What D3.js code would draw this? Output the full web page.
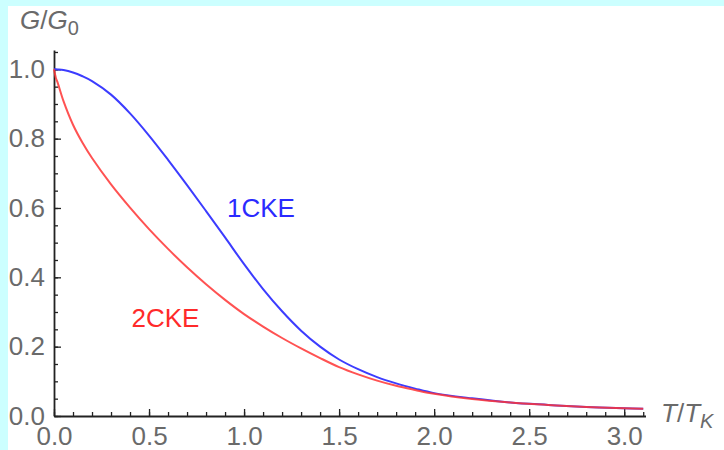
<!DOCTYPE html>
<html>
<head>
<meta charset="utf-8">
<script src="https://cdn.jsdelivr.net/npm/d3@7"></script>
<style>
  html, body { margin: 0; padding: 0; background: #ccffff; }
  svg { display: block; }
  text { font-family: "Liberation Sans", Arial, sans-serif; }
</style>
</head>
<body>
<svg id="chart" width="724" height="450"></svg>
<script>
// T/TK sample points and read-off conductances
const tGrid = [0, 0.01, 0.02, 0.05, 0.1, 0.15, 0.2, 0.3, 0.4, 0.5, 0.6, 0.7, 0.8, 0.9, 1.0,
  1.1, 1.2, 1.3, 1.4, 1.5, 1.6, 1.7, 1.8, 1.9, 2.0, 2.2, 2.4, 2.6, 2.8, 3.0, 3.1];
const g1CKE = [1.0, 0.9999, 0.9996, 0.998, 0.991, 0.980, 0.966, 0.927, 0.873, 0.809, 0.739, 0.666, 0.591, 0.515, 0.438,
  0.366, 0.302, 0.246, 0.200, 0.163, 0.135, 0.112, 0.094, 0.079, 0.066, 0.051, 0.039, 0.032, 0.026, 0.022, 0.021];
const g2CKE = [1.0, 0.975, 0.960, 0.908, 0.840, 0.788, 0.744, 0.668, 0.601, 0.539, 0.482, 0.429, 0.380, 0.335, 0.294,
  0.258, 0.225, 0.195, 0.167, 0.141, 0.120, 0.102, 0.087, 0.075, 0.064, 0.049, 0.039, 0.032, 0.026, 0.022, 0.021];

const xTicks = [0, 0.5, 1.0, 1.5, 2.0, 2.5, 3.0];
const yTicks = [0, 0.2, 0.4, 0.6, 0.8, 1.0];
const xMinor = d3.range(0, 32).map(i => i / 10);
const yMinor = d3.range(0, 22).map(i => i / 20);

const svg = d3.select("#chart");

// white plot panel inside the cyan frame
svg.append("rect")
  .attr("x", 8).attr("y", 6)
  .attr("width", 716).attr("height", 444)
  .attr("fill", "#fff");

const x = d3.scaleLinear().domain([0, 3.112]).range([54, 645.5]);
const y = d3.scaleLinear().domain([0, 1.0557]).range([416, 50]);

const axisColor = "#222";
const labelColor = "#6a6a6a";

// minor ticks first
svg.append("g")
  .attr("transform", "translate(0,416)")
  .call(d3.axisBottom(x).tickValues(xMinor).tickSize(-4).tickFormat(""))
  .call(g => g.select(".domain").remove());
svg.append("g")
  .attr("transform", "translate(54,0)")
  .call(d3.axisLeft(y).tickValues(yMinor).tickSize(-4).tickFormat(""))
  .call(g => g.select(".domain").remove());

const xAxis = svg.append("g")
  .attr("transform", "translate(0,416)")
  .call(d3.axisBottom(x).tickValues(xTicks).tickSizeInner(-7).tickSizeOuter(0)
    .tickPadding(11).tickFormat(d3.format(".1f")));
const yAxis = svg.append("g")
  .attr("transform", "translate(54,0)")
  .call(d3.axisLeft(y).tickValues(yTicks).tickSizeInner(-7).tickSizeOuter(0)
    .tickPadding(9).tickFormat(d3.format(".1f")));

svg.selectAll(".tick line").attr("stroke", axisColor).attr("stroke-width", 1.3);
[xAxis, yAxis].forEach(a => {
  a.select(".domain").attr("stroke", axisColor).attr("stroke-width", 1.8);
  a.selectAll("text").attr("font-size", 26).attr("fill", labelColor)
    .attr("font-family", "Liberation Sans, Arial, sans-serif");
});

// curves
const line = d3.line()
  .x(d => x(d[0]))
  .y(d => y(d[1]))
  .curve(d3.curveCatmullRom.alpha(0.5));

svg.append("path")
  .datum(tGrid.map((t, i) => [t, g1CKE[i]]))
  .attr("fill", "none")
  .attr("stroke", "#3c3cff")
  .attr("stroke-width", 2)
  .attr("d", line);

svg.append("path")
  .datum(tGrid.map((t, i) => [t, g2CKE[i]]))
  .attr("fill", "none")
  .attr("stroke", "#ff3434")
  .attr("stroke-opacity", 0.85)
  .attr("stroke-width", 2)
  .attr("d", line);

// curve labels
svg.append("text")
  .attr("x", 227).attr("y", 216.5)
  .attr("font-size", 26).attr("fill", "#2a2aff")
  .text("1CKE");
svg.append("text")
  .attr("x", 131.5).attr("y", 326.5)
  .attr("font-size", 26).attr("fill", "#ff2a2a")
  .text("2CKE");

// axis titles
const yTitle = svg.append("text")
  .attr("x", 20).attr("y", 29)
  .attr("font-size", 26).attr("fill", labelColor);
yTitle.append("tspan").attr("font-style", "italic").text("G");
yTitle.append("tspan").text("/");
yTitle.append("tspan").attr("font-style", "italic").text("G");
yTitle.append("tspan").attr("font-size", 20).attr("dy", 6).text("0");

const xTitle = svg.append("text")
  .attr("x", 661).attr("y", 422)
  .attr("font-size", 26).attr("fill", labelColor);
xTitle.append("tspan").attr("font-style", "italic").text("T");
xTitle.append("tspan").text("/");
xTitle.append("tspan").attr("font-style", "italic").text("T");
xTitle.append("tspan").attr("font-style", "italic").attr("font-size", 20).attr("dy", 6).text("K");
</script>
</body>
</html>
